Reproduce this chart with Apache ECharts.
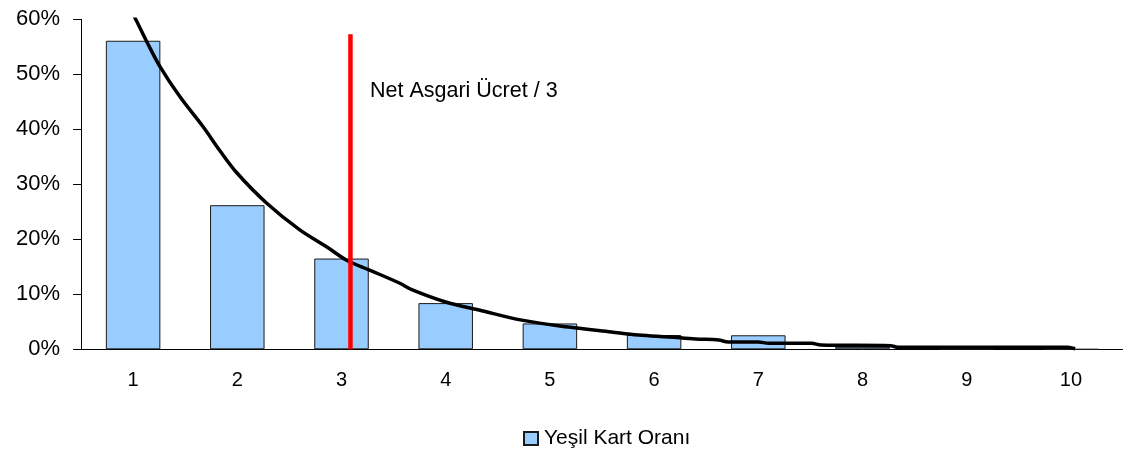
<!DOCTYPE html>
<html>
<head>
<meta charset="utf-8">
<title>Yeşil Kart Oranı</title>
<script src="https://cdn.jsdelivr.net/npm/echarts@6/dist/echarts.min.js"></script>
<style>
  html, body { margin: 0; padding: 0; background: #fff; }
  #chart { width: 1123px; height: 452px; }
</style>
</head>
<body>
<div id="chart"></div>
<script>
// kategoriler (x ekseni)
const categories = ['1', '2', '3', '4', '5', '6', '7', '8', '9', '10']
// çubuklar: Yeşil Kart Oranı (%)
const yesilKartOrani = [56.1, 26.2, 16.5, 8.4, 4.7, 2.6, 2.55, 0.45, 0.1, 0]

// siyah eğri (x = kategori konumu, y = %)
const curveX = [0.98, 1.02, 1.14, 1.258, 1.45, 1.67, 1.83, 1.995, 2.28, 2.6, 2.86, 3.05, 3.27, 3.555, 3.68, 4.0, 4.32, 4.73, 5.18, 5.59, 5.85, 6.14, 6.4, 6.62, 6.71, 7.0, 7.1, 7.51, 7.6, 8.27, 8.34, 9.97, 10.04]
const curveY = [61.5, 60.2, 55.6, 51.4, 45.9, 40.5, 36.2, 32.1, 26.6, 21.7, 18.6, 16.2, 14.4, 12.05, 10.8, 8.6, 7.15, 5.3, 4.05, 3.15, 2.6, 2.24, 1.87, 1.69, 1.33, 1.33, 1.09, 1.09, 0.78, 0.65, 0.36, 0.36, 0.1]

// kırmızı dikey çizgi: Net Asgari Ücret / 3
const asgariX = [3.086, 3.086]
const asgariY = [0, 57.3]
const asgariLabel = 'Net Asgari Ücret / 3'

const yTicks = [0, 10, 20, 30, 40, 50, 60]
const legendName = 'Yeşil Kart Oranı'

const font = "'Liberation Sans', Arial, sans-serif"

const chart = echarts.init(document.getElementById('chart'))

chart.setOption({
  animation: false,
  textStyle: { fontFamily: font },
  grid: { left: 81, top: 19.3, width: 1045, height: 330, containLabel: false },
  legend: {
    data: [legendName],
    left: 523,
    top: 428,
    padding: 0,
    itemWidth: 14,
    itemHeight: 13,
    textStyle: { fontSize: 21, color: '#000', fontFamily: font, padding: [0, 0, 0, 1] },
    icon: 'rect',
  },
  xAxis: [
    {
      type: 'category',
      data: categories,
      boundaryGap: true,
      axisLine: { lineStyle: { color: '#000', width: 1 } },
      axisTick: { show: false },
      axisLabel: { fontSize: 20, color: '#000', margin: 21, fontFamily: font },
      splitLine: { show: false },
    },
    {
      // kategori konumlarını eğri için sayısal eksene eşler
      type: 'value',
      min: 0.5,
      max: 10.5,
      show: false,
      splitLine: { show: false },
    },
  ],
  yAxis: {
    type: 'value',
    min: yTicks[0],
    max: yTicks[yTicks.length - 1],
    interval: 10,
    axisLine: { show: true, lineStyle: { color: '#000', width: 1 } },
    axisTick: { show: true, length: 8, inside: false, lineStyle: { color: '#000' } },
    axisLabel: { fontSize: 22, color: '#000', margin: 21, formatter: '{value}%', fontFamily: font },
    splitLine: { show: false },
  },
  series: [
    {
      name: legendName,
      type: 'bar',
      xAxisIndex: 0,
      data: yesilKartOrani,
      barWidth: 54.5,
      itemStyle: { color: '#99CCFF', borderColor: '#1a1a1a', borderWidth: 1 },
      z: 1,
    },
    {
      name: 'trend',
      type: 'line',
      xAxisIndex: 1,
      data: curveX.map((x, i) => [x, curveY[i]]),
      showSymbol: false,
      symbol: 'none',
      smooth: 0.35,
      clip: true,
      lineStyle: { color: '#000', width: 3.5 },
      z: 3,
      silent: true,
    },
    {
      name: 'asgari',
      type: 'line',
      xAxisIndex: 1,
      data: asgariX.map((x, i) => [x, asgariY[i]]),
      showSymbol: false,
      symbol: 'none',
      lineStyle: { color: '#FF0000', width: 4.5 },
      z: 4,
      silent: true,
    },
  ],
  graphic: [
    {
      type: 'text',
      left: 370,
      top: 80,
      style: { text: asgariLabel, font: "21.5px " + font, fill: '#000' },
    },
  ],
})
</script>
</body>
</html>
